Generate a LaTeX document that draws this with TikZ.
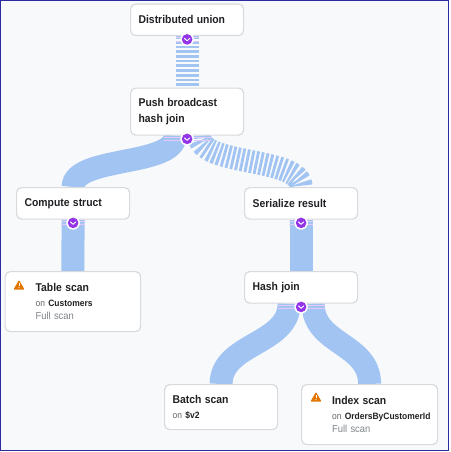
\documentclass[tikz,border=0pt]{standalone}
\usepackage{fontspec}
\setmainfont[FakeStretch=0.92]{Liberation Sans}
\usetikzlibrary{backgrounds}
\definecolor{flowblue}{HTML}{A1C4F3}
\definecolor{boxline}{HTML}{D8DADD}
\definecolor{pagebg}{HTML}{F8F9FB}
\definecolor{ink}{HTML}{202124}
\definecolor{subink}{HTML}{5F6368}
\definecolor{greyink}{HTML}{80868B}
\definecolor{purp}{HTML}{9334E6}
\definecolor{pinkbar}{HTML}{E2C9FA}
\definecolor{warnor}{HTML}{E37400}
\definecolor{framec}{HTML}{2B2B9E}
\newcommand{\ttl}[1]{\mbox{\fontsize{11.3}{14}\selectfont\bfseries\color{ink}#1}}
\newcommand{\onl}[1]{\mbox{\fontsize{9.2}{12}\selectfont\color{subink}on \bfseries\color{ink}#1}}
\newcommand{\gry}[1]{\mbox{\fontsize{10.2}{12}\selectfont\color{greyink}#1}}
\newcommand{\ind}{\hspace*{22.5pt}}
\tikzset{
  opbox/.style={draw=boxline,line width=1.2pt,fill=white,rounded corners=5pt,anchor=north west,
    align=left,inner xsep=8pt,inner ysep=0pt,minimum width=#1,text width=#1-16pt,minimum height=31.5pt},
  flow/.style={draw=flowblue,line width=23pt},
  striped/.style={flow,dash pattern=on 2.8pt off 1.9pt},
  pinkline/.style={draw=pinkbar,line width=1pt},
}
% expander: bars and round button just under a node's south anchor
\newcommand{\expander}[2]{%
  \draw[pinkline] ([xshift=-#2,yshift=-1.7pt]#1.south) -- ([xshift=#2,yshift=-1.7pt]#1.south);
  \draw[pinkline] ([xshift=-#2,yshift=-5.2pt]#1.south) -- ([xshift=#2,yshift=-5.2pt]#1.south);
  \fill[white] ([yshift=-3.2pt]#1.south) circle (6.8pt);
  \fill[purp] ([yshift=-3.2pt]#1.south) circle (5.3pt);
  \draw[white,line width=1pt,line cap=round,line join=round]
    ([xshift=-2.6pt,yshift=-2.2pt]#1.south) -- ([yshift=-4.6pt]#1.south) -- ([xshift=2.6pt,yshift=-2.2pt]#1.south);
}
\newcommand{\warnicon}[2]{%
  \fill[warnor,rounded corners=0.8pt] (#1-5.5,#2+4.5) -- (#1,#2-5) -- (#1+5.5,#2+4.5) -- cycle;
  \draw[white,line width=1pt] (#1,#2-1.8) -- (#1,#2+1.2);
  \fill[white] (#1,#2+2.8) circle (0.6);
}
\begin{document}
\begin{tikzpicture}[x=1pt,y=-1pt,line cap=butt]
\useasboundingbox (0,0) rectangle (450,452);
% nodes
\node[opbox=113pt,minimum height=31.5pt] (dist) at (130,3.5) {\ttl{Distributed union}\vspace{1pt}};
\node[opbox=113pt,minimum height=47pt] (push) at (130,87.5) {\ttl{Push broadcast}\\[4pt]\ttl{hash join}\vspace{1pt}};
\node[opbox=113pt] (comp) at (16,187) {\ttl{Compute struct}};
\node[opbox=113pt] (ser) at (244,187) {\ttl{Serialize result}};
\node[opbox=135.5pt,minimum height=60pt] (tab) at (4.5,271) {\ind\ttl{Table scan}\\[3.5pt]\ind\onl{Customers}\\[1pt]\ind\gry{Full scan}};
\node[opbox=113pt] (hash) at (244,271) {\ttl{Hash join}};
\node[opbox=113pt,minimum height=45pt] (batch) at (164,384) {\ttl{Batch scan}\\[2.5pt]\onl{\$v2}};
\node[opbox=136pt,minimum height=60pt] (idx) at (301,384) {\ind\ttl{Index scan}\\[3.5pt]\ind\onl{OrdersByCustomerId}\\[1pt]\ind\gry{Full scan}};
% page and connectors, behind the nodes
\begin{scope}[on background layer]
  \fill[white] (0,0) rectangle (450,452);
  \fill[pagebg] (1,1) rectangle (448.5,450.5);
  \draw[framec,line width=1.2pt] (0.6,0.6) -- (448.6,0.6) -- (448.6,450.8) -- (0.6,450.8) -- cycle;
  \draw[striped] (dist.south) -- (push.north);
  \draw[flow] ([xshift=-12pt]push.south) .. controls +(0,31) and +(0,-31) .. (comp.north);
  \draw[striped] ([xshift=12pt]push.south) .. controls +(0,31) and +(0,-31) .. (ser.north);
  \draw[flow] (comp.south) -- (tab.north);
  \draw[flow] (ser.south) -- (hash.north);
  \draw[flow] ([xshift=-12pt]hash.south) .. controls +(0,41) and +(0,-41) .. (batch.north);
  \draw[flow] ([xshift=12pt]hash.south) .. controls +(0,41) and +(0,-41) .. (idx.north);
\end{scope}
\expander{dist}{11.5pt}
\expander{push}{23.5pt}
\expander{comp}{12pt}
\expander{ser}{12pt}
\expander{hash}{23.5pt}
\warnicon{19}{285}
\warnicon{316}{397}
\end{tikzpicture}
\end{document}
